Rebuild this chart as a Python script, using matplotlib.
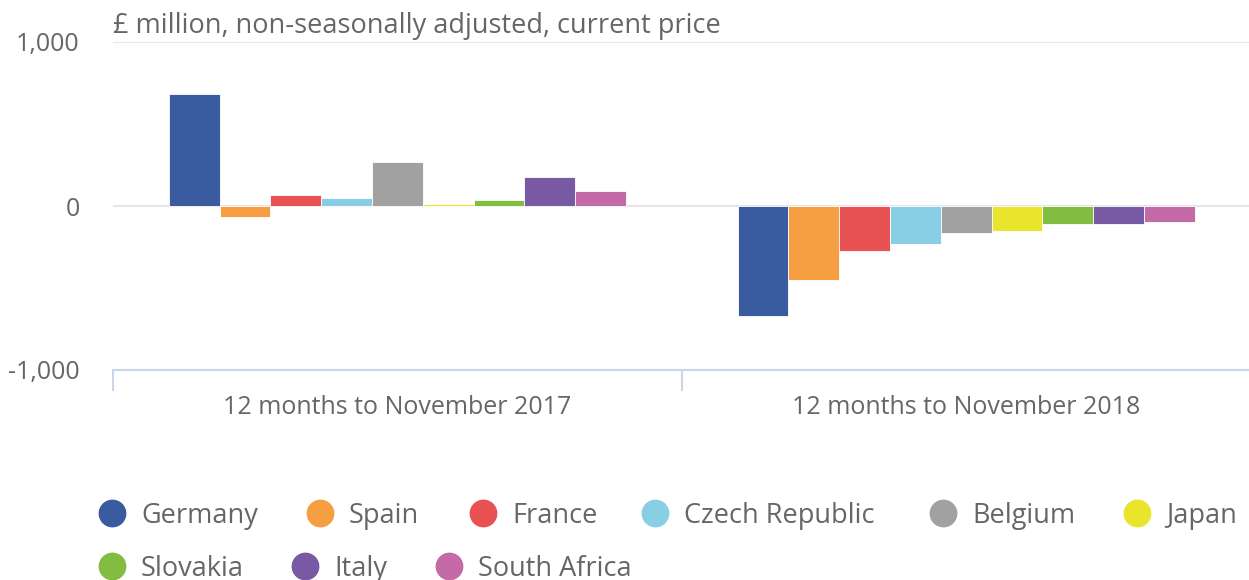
import matplotlib
matplotlib.use("Agg")
import matplotlib.pyplot as plt
from matplotlib.lines import Line2D
import numpy as np

plt.rcParams['font.family'] = ['Open Sans', 'DejaVu Sans']

categories = ["12 months to November 2017", "12 months to November 2018"]
countries = ["Germany", "Spain", "France", "Czech Republic", "Belgium", "Japan",
             "Slovakia", "Italy", "South Africa"]
values_2017 = [681, -69, 65, 51, 270, 15, 39, 175, 93]
values_2018 = [-673, -453, -276, -234, -167, -152, -112, -112, -98]
colors = ["#3a5ba0", "#f59f42", "#e85252", "#88cfe5", "#a1a1a1", "#e9e42c",
          "#82bd42", "#7859a3", "#c36aa7"]
yticks = [-1000, 0, 1000]
ytick_labels = ["-1,000", "0", "1,000"]

W, H = 1249, 580
fig = plt.figure(figsize=(W / 100, H / 100), dpi=100)
ax = fig.add_axes([113 / W, 1 - 370 / H, (1249 - 113) / W, (370 - 42) / H])

n = len(countries)
bw = 0.0893
x = np.arange(len(categories))
for i, c in enumerate(countries):
    vals = [values_2017[i], values_2018[i]]
    ax.bar(x + (i - (n - 1) / 2) * bw, vals, width=bw, color=colors[i],
           edgecolor="white", linewidth=0.6, zorder=3)

ax.set_xlim(-0.5, 1.497)
ax.set_ylim(-1000, 1000)
ax.set_yticks(yticks)
ax.set_yticklabels(ytick_labels)
ax.tick_params(axis='y', length=0, labelsize=18, labelcolor="#666666", pad=24)
for yv in [0, 1000]:
    ax.axhline(yv, color="#e6e6e6", linewidth=1.5, zorder=1)

for s in ["top", "right", "left"]:
    ax.spines[s].set_visible(False)
ax.spines["bottom"].set_color("#ccd6eb")
ax.spines["bottom"].set_linewidth(1.5)

ax.set_xticks(x)
ax.set_xticklabels(categories)
ax.tick_params(axis='x', length=0, labelsize=18, labelcolor="#666666", pad=18)
ax.set_xticks([-0.5, 0.5], minor=True)
ax.tick_params(axis='x', which='minor', length=15, color="#ccd6eb", width=1.5, direction='out')

fig.text(113 / W, 1 - 26 / H, "£ million, non-seasonally adjusted, current price",
         fontsize=19.5, color="#666666", va="center", ha="left")

# legend
leg_pos = [(112, 513), (320, 513), (483, 513), (655, 513), (943, 513), (1137, 513),
           (112, 566), (305, 566), (449, 566)]
for (px, py), name, col in zip(leg_pos, countries, colors):
    fig.add_artist(Line2D([px / W], [1 - py / H], marker='o', markersize=19,
                          color=col, linestyle='none', transform=fig.transFigure))
    fig.text((px + 29) / W, 1 - (py + 3) / H, name, fontsize=19.5, color="#666666",
             va="center", ha="left")

fig.savefig("out.png", dpi=100)
